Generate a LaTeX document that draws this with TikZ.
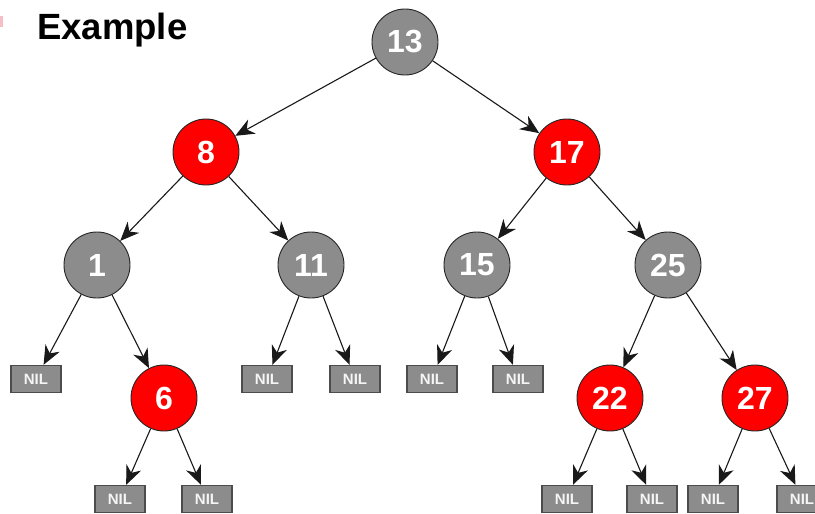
\documentclass[tikz,border=0pt]{standalone}
\usepackage{fontspec}
\setmainfont{Liberation Sans}
\usetikzlibrary{arrows.meta}
\definecolor{nodegray}{RGB}{140,140,140}
\definecolor{nodered}{RGB}{255,0,0}
\definecolor{bulletpink}{RGB}{248,190,198}
\begin{document}
\begin{tikzpicture}[x=1pt,y=-1pt,
  blacknode/.style={circle,minimum size=66pt,inner sep=0pt,fill=nodegray,draw=black!85,line width=0.9pt,
    text=white,font=\fontsize{32}{32}\selectfont\bfseries},
  rednode/.style={blacknode,fill=nodered},
  nilbox/.style={rectangle,minimum width=50pt,minimum height=27pt,inner sep=0pt,fill=nodegray,
    draw=black!70,line width=1.4pt,text=white!92!gray,font=\fontsize{15}{15}\selectfont\bfseries},
  edge/.style={draw=black!90,line width=1.1pt,-{Stealth[length=19pt,width=16pt,inset=6pt]}}]
\useasboundingbox (0,0) rectangle (815,514);
\fill[white] (0,0) rectangle (815,514);
% heading
\fill[bulletpink] (0,16) rectangle (3,27);
\node[anchor=base west,inner sep=0pt,font=\fontsize{36.5}{36.5}\selectfont\bfseries] (title) at (37,39) {Example};
% tree nodes
\node[blacknode] (n13) at (405,42) {13};
\node[rednode] (n8) at (206,152) {8};
\node[rednode] (n17) at (567,152) {17};
\node[blacknode] (n1) at (97,265) {1};
\node[blacknode] (n11) at (311,265) {11};
\node[blacknode] (n15) at (477,265) {15};
\node[blacknode] (n25) at (668,265) {25};
\node[rednode] (n6) at (164,398) {6};
\node[rednode] (n22) at (610,398) {22};
\node[rednode] (n27) at (755,398) {27};
% leaves
\node[nilbox] (l1) at (36,379) {NIL};
\node[nilbox] (l2) at (267,379) {NIL};
\node[nilbox] (l3) at (355,379) {NIL};
\node[nilbox] (l4) at (432,379) {NIL};
\node[nilbox] (l5) at (518,379) {NIL};
\node[nilbox] (l6) at (120,499) {NIL};
\node[nilbox] (l7) at (207,499) {NIL};
\node[nilbox] (l8) at (567,499) {NIL};
\node[nilbox] (l9) at (652,499) {NIL};
\node[nilbox] (l10) at (713,499) {NIL};
\node[nilbox] (l11) at (802,499) {NIL};
% edges
\draw[edge] (n13) -- (n8);
\draw[edge] (n13) -- (n17);
\draw[edge] (n8) -- (n1);
\draw[edge] (n8) -- (n11);
\draw[edge] (n17) -- (n15);
\draw[edge] (n17) -- (n25);
\draw[edge] (n1) -- (l1);
\draw[edge] (n1) -- (n6);
\draw[edge] (n11) -- (l2);
\draw[edge] (n11) -- (l3);
\draw[edge] (n15) -- (l4);
\draw[edge] (n15) -- (l5);
\draw[edge] (n25) -- (n22);
\draw[edge] (n25) -- (n27);
\draw[edge] (n6) -- (l6);
\draw[edge] (n6) -- (l7);
\draw[edge] (n22) -- (l8);
\draw[edge] (n22) -- (l9);
\draw[edge] (n27) -- (l10);
\draw[edge] (n27) -- (l11);
\end{tikzpicture}
\end{document}
